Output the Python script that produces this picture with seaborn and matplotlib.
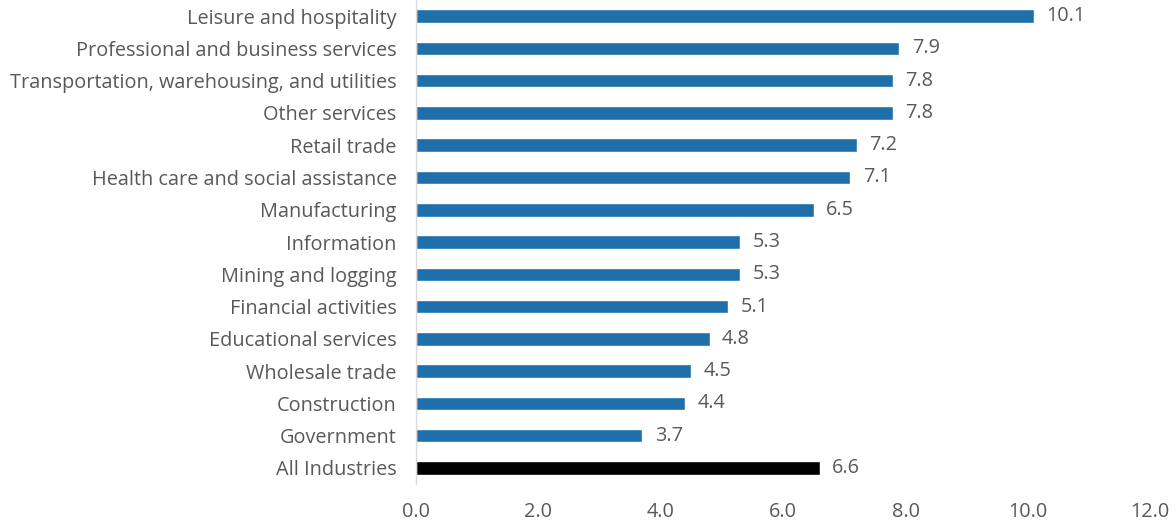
import matplotlib
matplotlib.use("Agg")
import matplotlib.pyplot as plt
import seaborn as sns
import pandas as pd

categories = [
    "Leisure and hospitality",
    "Professional and business services",
    "Transportation, warehousing, and utilities",
    "Other services",
    "Retail trade",
    "Health care and social assistance",
    "Manufacturing",
    "Information",
    "Mining and logging",
    "Financial activities",
    "Educational services",
    "Wholesale trade",
    "Construction",
    "Government",
    "All Industries",
]
values = [10.1, 7.9, 7.8, 7.8, 7.2, 7.1, 6.5, 5.3, 5.3, 5.1, 4.8, 4.5, 4.4, 3.7, 6.6]
xticks = [0, 2, 4, 6, 8, 10, 12]

df = pd.DataFrame({"cat": categories, "val": values})
colors = ["#1f6fab"] * (len(categories) - 1) + ["#000000"]

sns.set_theme(style="white")
plt.rcParams["font.family"] = ["Open Sans", "DejaVu Sans"]
text_color = "#595959"
fs = 14.3

fig = plt.figure(figsize=(11.75, 5.25), dpi=100)
ax = fig.add_axes([0.354, 0.078, 0.625, 0.922])
sns.barplot(data=df, x="val", y="cat", hue="cat", palette=colors, legend=False,
            width=0.42, saturation=1, ax=ax, orient="h")

for i, v in enumerate(values):
    ax.text(v + 0.2, i, f"{v:.1f}", va="center", ha="left", fontsize=fs, color=text_color)

ax.set_xlim(0, 12)
ax.set_ylim(len(categories) - 0.5, -0.5)
ax.set_xticks(xticks)
ax.set_xticklabels([f"{t:.1f}" for t in xticks])
ax.set_xlabel("")
ax.set_ylabel("")
ax.tick_params(axis="x", length=0, pad=13, labelsize=fs, labelcolor=text_color)
ax.tick_params(axis="y", length=0, pad=14, labelsize=fs, labelcolor=text_color)
for s in ["top", "right", "bottom"]:
    ax.spines[s].set_visible(False)
ax.spines["left"].set_color("#d9d9d9")
ax.spines["left"].set_linewidth(1)

fig.savefig("out.png", dpi=100)
